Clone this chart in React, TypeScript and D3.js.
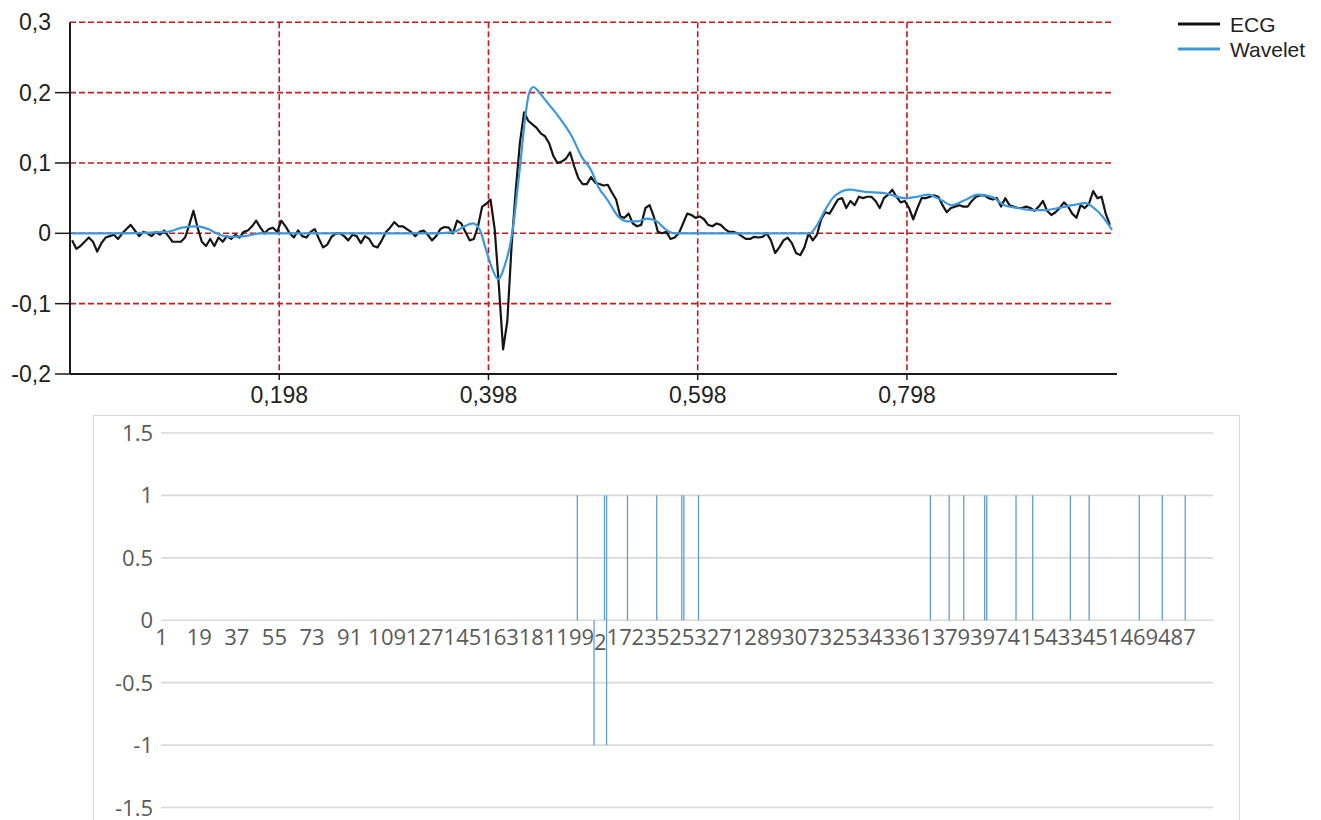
import * as d3 from "d3";

// ---- top chart: ECG sampled every 4 ms, wavelet reconstruction ----
const ecgStep = 0.004;
const ecg = [
  -0.01, -0.022, -0.018, -0.012, -0.006, -0.012, -0.026, -0.014, -0.006, -0.004,
  -0.002, -0.008, 0, 0.006, 0.012, 0.004, -0.004, 0.002, 0, -0.004,
  0.002, -0.002, 0.004, -0.004, -0.012, -0.012, -0.012, -0.006, 0.012, 0.032,
  0.008, -0.012, -0.018, -0.008, -0.018, -0.006, -0.012, -0.004, -0.008, -0.002,
  -0.006, 0.002, 0.004, 0.01, 0.018, 0.008, 0, 0.006, 0.008, 0.002,
  0.018, 0.01, 0, -0.006, 0.004, -0.004, -0.006, 0.002, 0.006, -0.008,
  -0.02, -0.016, -0.005, 0, 0, -0.004, -0.01, -0.002, -0.004, -0.014,
  -0.004, -0.008, -0.018, -0.02, -0.01, 0.002, 0.008, 0.016, 0.01, 0.01,
  0.006, 0.002, -0.004, 0.002, 0.004, -0.002, -0.01, -0.004, 0.006, 0.009,
  0.008, 0, 0.018, 0.014, 0.002, -0.01, -0.008, 0.01, 0.038, 0.042,
  0.048, 0.005, -0.076, -0.165, -0.125, -0.02, 0.06, 0.128, 0.172, 0.16,
  0.155, 0.15, 0.142, 0.138, 0.128, 0.11, 0.1, 0.102, 0.106, 0.115,
  0.095, 0.078, 0.07, 0.07, 0.08, 0.072, 0.07, 0.068, 0.069, 0.058,
  0.048, 0.024, 0.022, 0.028, 0.014, 0.01, 0.012, 0.036, 0.04, 0.024,
  0.002, 0, 0.002, -0.008, -0.006, 0, 0.014, 0.028, 0.026, 0.022,
  0.024, 0.02, 0.012, 0.01, 0.014, 0.012, 0.006, 0.002, 0.002, 0,
  -0.004, -0.008, -0.008, -0.005, -0.006, -0.005, 0, -0.01, -0.028, -0.02,
  -0.01, -0.006, -0.014, -0.028, -0.031, -0.02, 0, -0.01, -0.002, 0.02,
  0.03, 0.028, 0.038, 0.048, 0.05, 0.036, 0.046, 0.04, 0.052, 0.05,
  0.052, 0.052, 0.046, 0.036, 0.05, 0.055, 0.062, 0.052, 0.044, 0.046,
  0.036, 0.02, 0.036, 0.05, 0.05, 0.052, 0.054, 0.052, 0.04, 0.03,
  0.036, 0.038, 0.04, 0.038, 0.038, 0.046, 0.052, 0.054, 0.054, 0.05,
  0.048, 0.05, 0.038, 0.05, 0.04, 0.038, 0.036, 0.036, 0.038, 0.036,
  0.032, 0.038, 0.046, 0.032, 0.026, 0.03, 0.036, 0.044, 0.038, 0.028,
  0.022, 0.04, 0.036, 0.042, 0.06, 0.05, 0.052, 0.028, 0.012,
];

const wavelet: [number, number][] = [
  [0, 0], [0.05, 0], [0.09, 0.002], [0.105, 0.008], [0.12, 0.01], [0.13, 0.006],
  [0.138, 0], [0.15, -0.005], [0.165, -0.004], [0.18, 0], [0.25, 0], [0.3, 0],
  [0.35, 0], [0.365, 0.002], [0.375, 0.01], [0.383, 0.014], [0.39, 0.004],
  [0.395, -0.02], [0.401, -0.048], [0.4073, -0.065], [0.4137, -0.045], [0.4195, -0.01],
  [0.4225, 0.02], [0.4255, 0.06], [0.4285, 0.1], [0.4335, 0.17], [0.437, 0.2],
  [0.441, 0.208], [0.445, 0.203], [0.452, 0.19], [0.465, 0.166], [0.478, 0.137],
  [0.487, 0.109], [0.496, 0.09], [0.503, 0.066], [0.512, 0.047], [0.522, 0.024],
  [0.531, 0.017], [0.54, 0.017], [0.55, 0.021], [0.559, 0.017], [0.568, 0.005],
  [0.576, 0], [0.65, 0], [0.705, 0], [0.713, 0.014], [0.719, 0.031], [0.727, 0.05],
  [0.735, 0.059], [0.743, 0.062], [0.758, 0.059], [0.777, 0.057], [0.796, 0.05],
  [0.808, 0.052], [0.818, 0.055], [0.831, 0.047], [0.841, 0.04], [0.853, 0.047],
  [0.866, 0.055], [0.879, 0.052], [0.891, 0.04], [0.904, 0.036], [0.917, 0.033],
  [0.93, 0.033], [0.943, 0.036], [0.956, 0.04], [0.969, 0.043], [0.975, 0.038],
  [0.985, 0.024], [0.994, 0.005],
];

const topYTicks = [0.3, 0.2, 0.1, 0, -0.1, -0.2];
const topXTicks = [0.198, 0.398, 0.598, 0.798];
const legendItems = [
  { name: "ECG", color: "#111111" },
  { name: "Wavelet", color: "#3d97dc" },
];

// ---- bottom chart: detected pulses per sample ----
const sampleCount = 504;
const labelStep = 18;
const pulsesUp = [200, 213, 214, 224, 238, 250, 251, 258, 369, 378, 385, 395, 396, 410, 418, 436, 445, 469, 480, 491];
const pulsesDown = [208, 214];
const bottomYTicks = [1.5, 1, 0.5, 0, -0.5, -1, -1.5];

const fmtComma = (v: number) => String(v).replace(".", ",");

export default function App() {
  const xT = d3.scaleLinear().domain([-0.002, 0.994]).range([70, 1112]);
  const yT = d3.scaleLinear().domain([-0.2, 0.3]).range([374, 22.3]);

  const ecgLine = d3
    .line<number>()
    .x((_, i) => xT(i * ecgStep))
    .y((d) => yT(d));
  const waveLine = d3
    .line<[number, number]>()
    .curve(d3.curveMonotoneX)
    .x((d) => xT(d[0]))
    .y((d) => yT(d[1]));

  const categories = d3.range(1, sampleCount + 1);
  const xB = d3.scaleBand<number>().domain(categories).range([161, 1213]).paddingInner(0.4);
  const yB = d3.scaleLinear().domain([-1.5, 1.5]).range([807.5, 433]);
  const labelCats = categories.filter((c) => (c - 1) % labelStep === 0);
  const pulses = [
    ...pulsesUp.map((c) => ({ c, v: 1 })),
    ...pulsesDown.map((c) => ({ c, v: -1 })),
  ];

  const red = "#c41a1a";
  const topFont = "'Liberation Sans', Arial, sans-serif";
  const xlFont = "'Open Sans', 'Noto Sans', sans-serif";

  return (
    <svg
      width={1321}
      height={820}
      style={{ position: "absolute", left: 0, top: 0, background: "#fff" }}
    >
      {/* ---------- top chart ---------- */}
      <g>
        {topYTicks.slice(0, -1).map((t) => (
          <line
            key={`hg${t}`}
            x1={70}
            x2={1113}
            y1={yT(t)}
            y2={yT(t)}
            stroke={red}
            strokeWidth={1.6}
            strokeDasharray="6,3"
          />
        ))}
        {topXTicks.map((t) => (
          <line
            key={`vg${t}`}
            x1={xT(t)}
            x2={xT(t)}
            y1={yT(0.3)}
            y2={yT(-0.2)}
            stroke={red}
            strokeWidth={1.6}
            strokeDasharray="6,3"
          />
        ))}
        <path d={ecgLine(ecg) ?? ""} fill="none" stroke="#151515" strokeWidth={2.2} strokeLinejoin="round" />
        <path d={waveLine(wavelet) ?? ""} fill="none" stroke="#3d97dc" strokeWidth={2.2} />

        <line x1={70} x2={70} y1={yT(0.3)} y2={yT(-0.2)} stroke="#1a1a1a" strokeWidth={2} />
        <line x1={70} x2={1117} y1={yT(-0.2)} y2={yT(-0.2)} stroke="#1a1a1a" strokeWidth={2} />
        {topYTicks.slice(1).map((t) => (
          <line key={`yt${t}`} x1={55} x2={70} y1={yT(t)} y2={yT(t)} stroke="#1a1a1a" strokeWidth={1.5} />
        ))}
        {topXTicks.map((t) => (
          <line key={`xt${t}`} x1={xT(t)} x2={xT(t)} y1={yT(-0.2)} y2={yT(-0.2) + 6} stroke="#1a1a1a" strokeWidth={1.5} />
        ))}
        {topYTicks.map((t) => (
          <text
            key={`yl${t}`}
            x={51}
            y={yT(t) + 8}
            textAnchor="end"
            fontFamily={topFont}
            fontSize={23}
            fill="#222"
          >
            {fmtComma(t)}
          </text>
        ))}
        {topXTicks.map((t) => (
          <text
            key={`xl${t}`}
            x={xT(t)}
            y={403}
            textAnchor="middle"
            fontFamily={topFont}
            fontSize={23}
            fill="#222"
          >
            {fmtComma(t)}
          </text>
        ))}

        {legendItems.map((it, i) => (
          <g key={it.name} transform={`translate(1178, ${24 + i * 25})`}>
            <line x1={0} x2={42} y1={0} y2={0} stroke={it.color} strokeWidth={3} />
            <text x={52} y={8} fontFamily={topFont} fontSize={21} fill="#222">
              {it.name}
            </text>
          </g>
        ))}
      </g>

      {/* ---------- bottom chart ---------- */}
      <g>
        <rect x={93.5} y={415.5} width={1146} height={420} fill="#fff" stroke="#d9d9d9" strokeWidth={1} />
        {bottomYTicks.map((t) => (
          <line key={`bg${t}`} x1={161} x2={1213} y1={yB(t)} y2={yB(t)} stroke="#d9d9d9" strokeWidth={1.6} />
        ))}
        {bottomYTicks.map((t) => (
          <text
            key={`bl${t}`}
            x={153}
            y={yB(t) + 8}
            textAnchor="end"
            fontFamily={xlFont}
            fontSize={22}
            fill="#595959"
          >
            {t}
          </text>
        ))}
        {labelCats.map((c) => {
          const cx = (xB(c) ?? 0) + xB.bandwidth() / 2;
          const s = String(c);
          return (
            <text
              key={`cl${c}`}
              x={cx}
              y={645}
              textAnchor="middle"
              fontFamily={xlFont}
              fontSize={22}
              fill="#595959"
            >
              {c === 217 ? (
                <>
                  <tspan dy={5}>{s[0]}</tspan>
                  <tspan dy={-5}>{s.slice(1)}</tspan>
                </>
              ) : (
                s
              )}
            </text>
          );
        })}
        {pulses.map((p, i) => (
          <rect
            key={`p${i}`}
            x={xB(p.c) ?? 0}
            width={xB.bandwidth()}
            y={Math.min(yB(0), yB(p.v))}
            height={Math.abs(yB(p.v) - yB(0))}
            fill="#5b9bd5"
          />
        ))}
      </g>
    </svg>
  );
}
